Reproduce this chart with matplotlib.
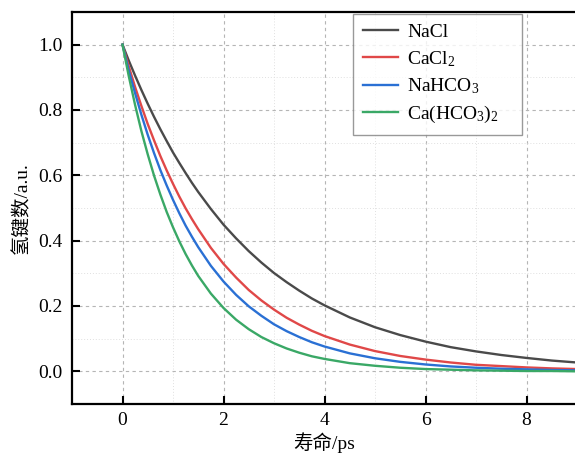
import matplotlib
matplotlib.use("Agg")
import matplotlib.pyplot as plt
from matplotlib.ticker import MultipleLocator

plt.rcParams['font.family'] = ['Liberation Serif', 'Noto Sans CJK SC', 'DejaVu Sans']
plt.rcParams['mathtext.fontset'] = 'custom'
plt.rcParams['mathtext.rm'] = 'Liberation Serif'
plt.rcParams['mathtext.it'] = 'Liberation Serif:italic'

# lifetime (ps)
t = [0, 0.125, 0.25, 0.375, 0.5, 0.625, 0.75, 0.875, 1, 1.125, 1.25, 1.375, 1.5,
     1.75, 2, 2.25, 2.5, 2.75, 3, 3.25, 3.5, 3.75, 4,
     4.5, 5, 5.5, 6, 6.5, 7, 7.5, 8, 8.5, 9]

nacl = [1.000, 0.951, 0.905, 0.861, 0.819, 0.779, 0.741, 0.705, 0.670, 0.638, 0.607, 0.577, 0.549,
        0.497, 0.449, 0.407, 0.368, 0.333, 0.301, 0.273, 0.247, 0.223, 0.202,
        0.165, 0.135, 0.111, 0.091, 0.074, 0.061, 0.050, 0.041, 0.033, 0.027]
cacl2 = [1.000, 0.933, 0.870, 0.812, 0.757, 0.707, 0.659, 0.615, 0.574, 0.535, 0.499, 0.466, 0.435,
         0.378, 0.329, 0.287, 0.249, 0.217, 0.189, 0.164, 0.143, 0.124, 0.108,
         0.082, 0.062, 0.047, 0.036, 0.027, 0.020, 0.016, 0.012, 0.009, 0.007]
nahco3 = [1.000, 0.920, 0.851, 0.785, 0.724, 0.668, 0.616, 0.569, 0.525, 0.484, 0.446, 0.412, 0.380,
          0.323, 0.275, 0.234, 0.199, 0.170, 0.144, 0.123, 0.105, 0.089, 0.076,
          0.055, 0.040, 0.029, 0.021, 0.015, 0.011, 0.008, 0.006, 0.004, 0.003]
cahco3 = [1.000, 0.903, 0.815, 0.735, 0.664, 0.599, 0.541, 0.488, 0.441, 0.398, 0.359, 0.324, 0.292,
          0.238, 0.194, 0.158, 0.129, 0.105, 0.086, 0.070, 0.057, 0.046, 0.038,
          0.025, 0.017, 0.011, 0.007, 0.005, 0.003, 0.002, 0.001, 0.001, 0.000]

labels = ['NaCl', 'CaCl$_2$', 'NaHCO$_3$', 'Ca(HCO$_3$)$_2$']
colors = ['#4a4a4a', '#e04848', '#2a70d4', '#3aa866']

fig = plt.figure(figsize=(5.75, 4.57), dpi=100)
ax = fig.add_axes([72 / 575, 1 - 404 / 457, 505 / 575, 392 / 457])

for y, lbl, c in zip([nacl, cacl2, nahco3, cahco3], labels, colors):
    ax.plot(t, y, color=c, lw=1.7, label=lbl)

ax.set_xlim(-1, 9)
ax.set_ylim(-0.1, 1.1)
ax.xaxis.set_major_locator(MultipleLocator(2))
ax.xaxis.set_minor_locator(MultipleLocator(1))
ax.yaxis.set_major_locator(MultipleLocator(0.2))
ax.yaxis.set_minor_locator(MultipleLocator(0.1))
ax.yaxis.set_major_formatter(lambda v, p: f"{v:.1f}")

ax.grid(which='major', color='#b5b5b5', ls=(0, (3, 3)), lw=0.8)
ax.grid(which='minor', color='#e0e0e0', ls=(0, (1, 2)), lw=0.7)
ax.set_axisbelow(True)

ax.tick_params(which='major', direction='in', length=6, width=1.5, labelsize=14, pad=6)
ax.tick_params(axis='y', pad=7)
ax.tick_params(which='minor', length=0)
for s in ax.spines.values():
    s.set_linewidth(1.6)

ax.set_xlabel('寿命/ps', fontsize=14, labelpad=2)
ax.set_ylabel('氢键数/a.u.', fontsize=14, labelpad=5)

leg = ax.legend(loc='upper left', bbox_to_anchor=(0.556, 0.5, 169 / 505, 0.495),
                mode='expand', borderaxespad=0,
                fontsize=14, frameon=True, fancybox=False, handlelength=1.8,
                labelspacing=0.4, handletextpad=0.5, borderpad=0.5)
leg.get_frame().set_edgecolor('#808080')
leg.get_frame().set_linewidth(1.0)

fig.savefig('out.png', dpi=100)
